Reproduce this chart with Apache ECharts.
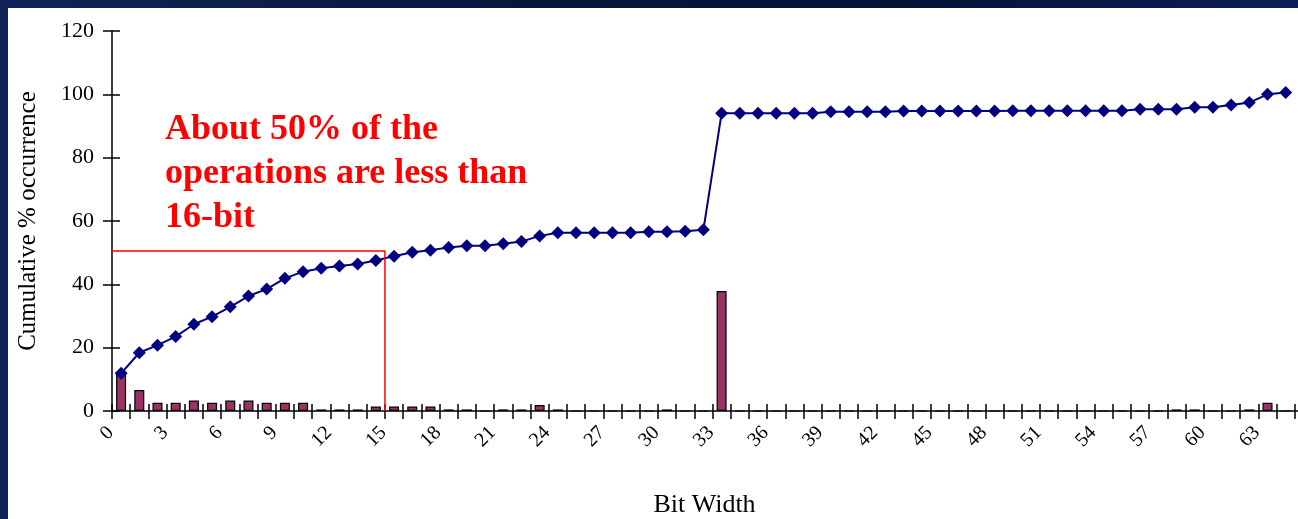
<!DOCTYPE html>
<html>
<head>
<meta charset="utf-8">
<script src="https://cdn.jsdelivr.net/npm/echarts@6/dist/echarts.min.js"></script>
<style>
  html, body { margin: 0; padding: 0; width: 1298px; height: 519px; overflow: hidden;
    background: linear-gradient(90deg, #102557 0%, #08163d 40%, #061236 70%, #0c1e58 100%); }
  #chart { position: absolute; left: 8px; top: 8px; width: 1330px; height: 511px; background: #ffffff; }
</style>
</head>
<body>
<div id="chart"></div>
<script>
// Bit width categories (0..65)
const categories = ['0','1','2','3','4','5','6','7','8','9','10','11','12','13','14','15','16','17','18','19',
  '20','21','22','23','24','25','26','27','28','29','30','31','32','33','34','35','36','37','38','39',
  '40','41','42','43','44','45','46','47','48','49','50','51','52','53','54','55','56','57','58','59',
  '60','61','62','63','64','65'];

// % occurrence per bit width (bars)
const occurrence = [12.0, 6.6, 2.6, 2.6, 3.3, 2.6, 3.3, 3.3, 2.6, 2.6,
  2.6, 0.5, 0.5, 0.5, 1.4, 1.4, 1.4, 1.4, 0.5, 0.5,
  0, 0.5, 0.5, 1.9, 0.5, 0, 0, 0, 0, 0,
  0.5, 0, 0, 37.9, 0, 0, 0, 0, 0, 0,
  0, 0, 0, 0, 0, 0, 0, 0, 0, 0,
  0, 0, 0, 0, 0, 0, 0, 0, 0.5, 0.5,
  0, 0, 0.5, 2.6, 0, null];

// Cumulative % occurrence (line)
const cumulative = [11.9, 18.4, 20.8, 23.5, 27.4, 29.8, 32.9, 36.3, 38.5, 41.9,
  44.0, 45.1, 45.8, 46.4, 47.5, 48.9, 50.1, 50.8, 51.6, 52.2,
  52.2, 52.8, 53.5, 55.3, 56.3, 56.3, 56.3, 56.3, 56.3, 56.6,
  56.6, 56.8, 57.2, 94.0, 94.0, 94.0, 94.0, 94.0, 94.0, 94.5,
  94.5, 94.5, 94.5, 94.7, 94.7, 94.7, 94.7, 94.7, 94.7, 94.8,
  94.8, 94.8, 94.8, 94.8, 94.8, 94.8, 95.3, 95.3, 95.3, 95.9,
  95.9, 96.6, 97.4, 100.0, 100.6, null];

// Annotation box corner: 50% threshold, boundary at 16-bit (between categories 14 and 15)
const annotationX = [-0.5, 14.5, 14.5];
const annotationY = [50.5, 50.5, 0];
const annotationText = ['About 50% of the', 'operations are less than', '16-bit'];

const yTicks = { min: 0, max: 120, interval: 20 };

const chart = echarts.init(document.getElementById('chart'), null, { renderer: 'canvas' });
const serif = 'Liberation Serif, Times New Roman, serif';

chart.setOption({
  animation: false,
  backgroundColor: '#ffffff',
  grid: { left: 104, top: 23, width: 1201, height: 380, containLabel: false, outerBoundsMode: 'none' },
  xAxis: [
    {
      type: 'category', data: categories, boundaryGap: true,
      axisLine: { onZero: false, lineStyle: { color: '#000', width: 1.5 } },
      axisTick: { show: true, interval: 0, length: 8, lineStyle: { color: '#000', width: 1.5 } },
      axisLabel: { interval: 2, rotate: 45, fontFamily: serif, fontSize: 20, color: '#000', margin: 8,
        padding: [0, 15, 0, 0] },
      splitLine: { show: false },
      name: 'Bit Width', nameLocation: 'middle', nameGap: 81,
      nameTextStyle: { fontFamily: serif, fontSize: 26, color: '#000', padding: [0, 16, 0, 0] }
    },
    {
      type: 'category', data: categories, boundaryGap: true, position: 'bottom',
      axisLine: { show: false, onZero: false },
      axisTick: { show: true, inside: true, interval: 0, length: 7, lineStyle: { color: '#000', width: 1.5 } },
      axisLabel: { show: false }, splitLine: { show: false }
    },
    {
      type: 'value', min: -0.5, max: 65.5, show: false,
      axisLine: { onZero: false }
    }
  ],
  yAxis: [
    {
      type: 'value', min: yTicks.min, max: yTicks.max, interval: yTicks.interval,
      axisLine: { show: true, onZero: false, lineStyle: { color: '#000', width: 1.5 } },
      axisTick: { show: true, length: 9, lineStyle: { color: '#000', width: 1.5 } },
      axisLabel: { fontFamily: serif, fontSize: 22, color: '#000', margin: 18 },
      splitLine: { show: false },
      name: 'Cumulative % occurrence', nameLocation: 'middle', nameGap: 71, nameRotate: 90,
      nameTextStyle: { fontFamily: serif, fontSize: 25, color: '#000' }
    },
    {
      type: 'value', min: yTicks.min, max: yTicks.max, interval: yTicks.interval, position: 'left',
      axisLine: { show: false, onZero: false },
      axisTick: { show: true, inside: true, length: 8, lineStyle: { color: '#000', width: 1.5 } },
      axisLabel: { show: false }, splitLine: { show: false }
    }
  ],
  series: [
    {
      name: 'Occurrence', type: 'bar', xAxisIndex: 0, yAxisIndex: 0,
      data: occurrence, barWidth: '55%',
      itemStyle: { color: '#993366', borderColor: '#000', borderWidth: 1.2 },
      z: 2
    },
    {
      name: 'Cumulative', type: 'line', xAxisIndex: 0, yAxisIndex: 0,
      data: cumulative, symbol: 'diamond', symbolSize: 13, showAllSymbol: true,
      lineStyle: { color: '#000080', width: 2 },
      itemStyle: { color: '#000080' },
      z: 3
    },
    {
      name: 'Annotation', type: 'line', xAxisIndex: 2, yAxisIndex: 0,
      data: annotationX.map((x, i) => [x, annotationY[i]]),
      symbol: 'none', lineStyle: { color: '#ff0000', width: 1.5 },
      z: 4, silent: true
    }
  ],
  graphic: [
    {
      type: 'text', left: 157, top: 100, z: 10,
      style: {
        text: annotationText.join('\n'),
        font: 'bold 36px ' + serif,
        fill: '#ff0000', lineHeight: 44
      }
    }
  ]
});
</script>
</body>
</html>
